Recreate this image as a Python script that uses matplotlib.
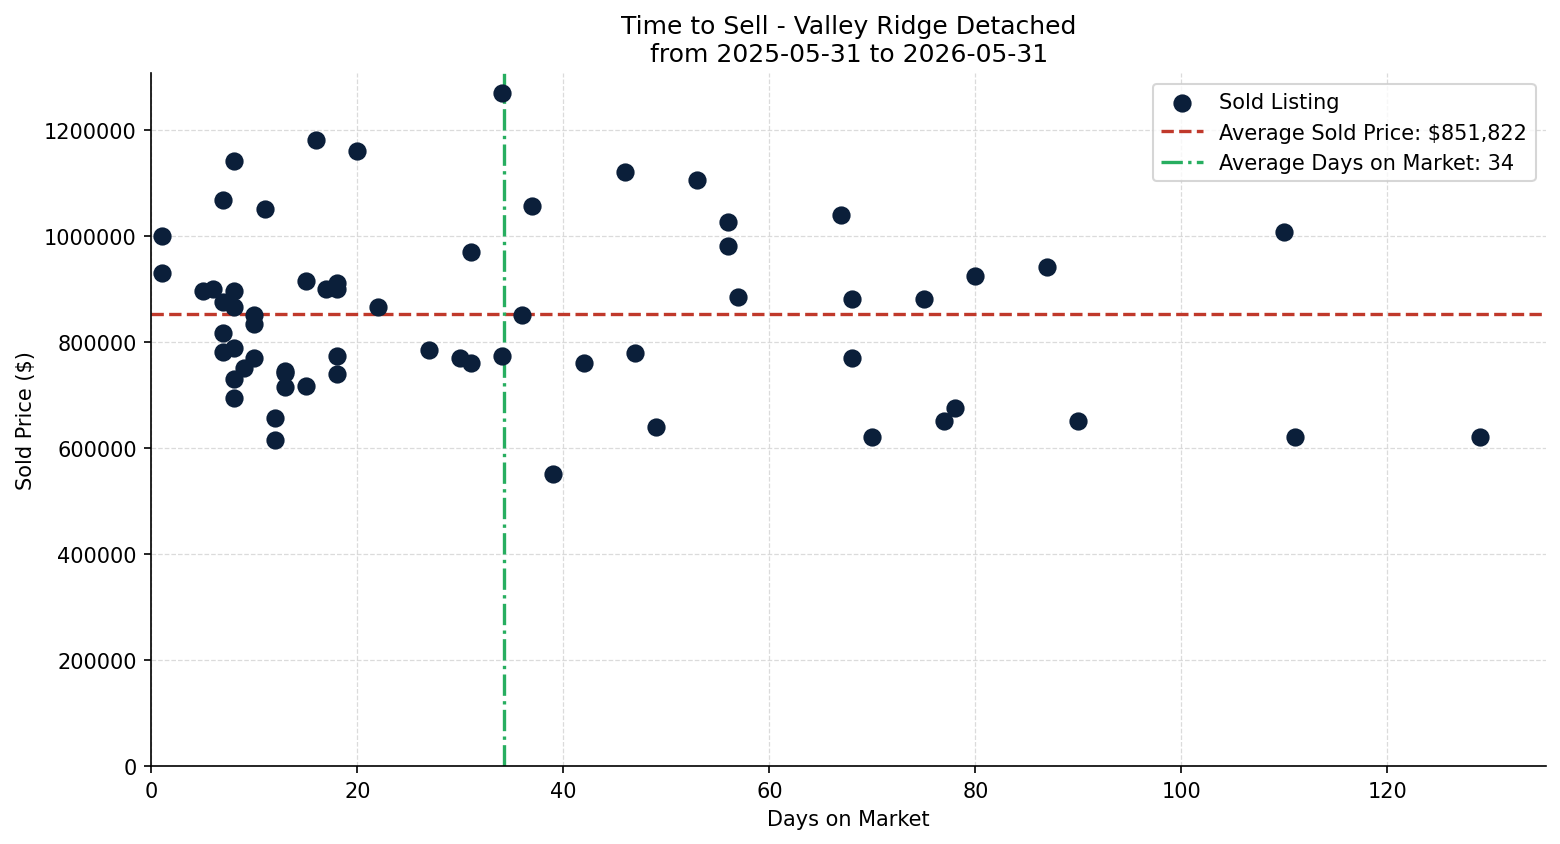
import matplotlib
matplotlib.use("Agg")
import matplotlib.pyplot as plt
import numpy as np

days = [1, 1, 5, 6, 7, 8, 7, 8, 8, 7, 7, 8, 8, 9, 8, 10, 10, 10, 11, 12, 12,
        13, 13, 13, 15, 15, 16, 17, 18, 18, 18, 18, 20, 22, 27, 30, 31, 31,
        34, 34, 36, 37, 39, 42, 46, 47, 49, 53, 56, 56, 57, 67, 68, 68, 70,
        75, 77, 78, 80, 87, 90, 110, 111, 129]
prices = [1000000, 930000, 895000, 900000, 1068000, 1140600, 875000, 895000,
          865000, 816000, 780000, 788000, 730000, 750000, 694000, 850000,
          833000, 769000, 1050000, 656000, 615000, 745000, 742000, 715000,
          915000, 717000, 1180000, 900000, 910000, 900000, 773000, 739000,
          1160000, 865000, 784000, 769000, 970000, 760000, 1270000, 773000,
          850000, 1057000, 550000, 760000, 1120000, 779000, 640000, 1106000,
          1025000, 980000, 884000, 1040000, 880000, 769000, 620000, 880000,
          650000, 675000, 925000, 942000, 650000, 1008000, 620000, 620000]

avg_price = np.mean(prices)
avg_days = np.mean(days)

fig, ax = plt.subplots(figsize=(10.4, 5.633), dpi=150)

ax.scatter(days, prices, s=60, color="#0b1f3a", label="Sold Listing", zorder=3)
ax.axhline(avg_price, color="#c0392b", linestyle="--", linewidth=1.6,
           label=f"Average Sold Price: ${avg_price:,.0f}")
ax.axvline(avg_days, color="#27ae60", linestyle="-.", linewidth=1.6,
           label=f"Average Days on Market: {avg_days:.0f}")

ax.set_xlim(left=0)
ax.set_ylim(bottom=0)
ax.ticklabel_format(style="plain", axis="y")
ax.grid(True, linestyle="--", color="lightgray", linewidth=0.6, alpha=0.8)
ax.spines["top"].set_visible(False)
ax.spines["right"].set_visible(False)

ax.set_title("Time to Sell - Valley Ridge Detached\nfrom 2025-05-31 to 2026-05-31", fontsize=12)
ax.set_xlabel("Days on Market")
ax.set_ylabel("Sold Price ($)")
ax.legend(loc="upper right")

fig.subplots_adjust(left=0.097, right=0.991, bottom=0.092, top=0.912)
plt.savefig("out.png", dpi=150)
